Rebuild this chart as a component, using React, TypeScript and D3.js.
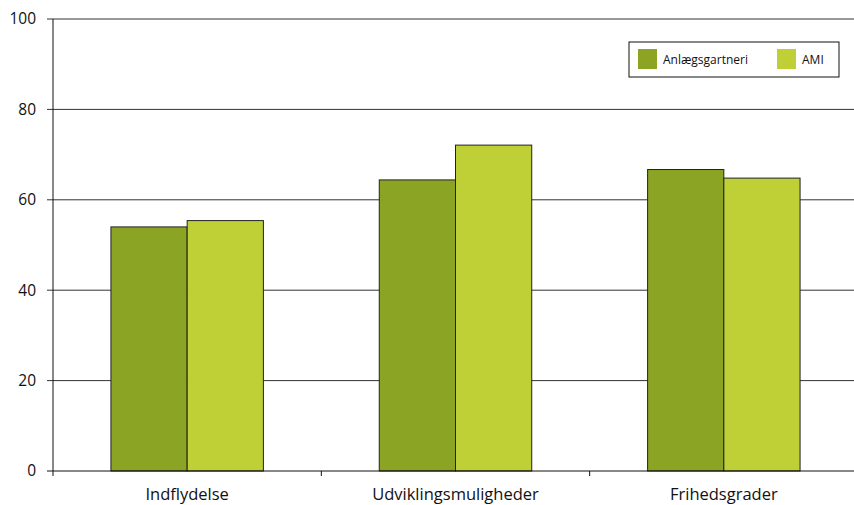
import { useEffect, useRef } from 'react';
import * as d3 from 'd3';

const categories = ['Indflydelse', 'Udviklingsmuligheder', 'Frihedsgrader'];
const seriesNames = ['Anlægsgartneri', 'AMI'];
const anlaeg = [54.0, 64.4, 66.7];
const ami = [55.4, 72.1, 64.8];
const yTicks = [0, 20, 40, 60, 80, 100];
const colors = ['#8ba423', '#bfcf36'];

export default function App() {
	const ref = useRef<SVGSVGElement | null>(null);

	useEffect(() => {
		if (!ref.current) return;
		const svg = d3.select(ref.current);
		svg.selectAll('*').remove();

		const margin = { top: 19, right: -4, bottom: 34, left: 53 };
		const width = 854 - margin.left - margin.right;
		const height = 505 - margin.top - margin.bottom;
		const font = "'Open Sans', sans-serif";

		const x0 = d3.scaleBand().domain(categories).range([0, width]).paddingInner(0).paddingOuter(0);
		const x1 = d3.scaleBand().domain(seriesNames).range([0, x0.bandwidth()]).paddingOuter(0.76);
		const y = d3.scaleLinear().domain([0, 100]).range([height, 0]);

		const g = svg.append('g').attr('transform', `translate(${margin.left},${margin.top})`);

		// gridlines
		g.selectAll('line.grid')
			.data(yTicks.filter(t => t > 0))
			.enter()
			.append('line')
			.attr('x1', -6)
			.attr('x2', width)
			.attr('y1', d => y(d))
			.attr('y2', d => y(d))
			.attr('stroke', '#333')
			.attr('stroke-width', 1);

		// y tick labels
		g.selectAll('text.ytick')
			.data(yTicks)
			.enter()
			.append('text')
			.attr('x', -17)
			.attr('y', d => y(d))
			.attr('dy', '0.35em')
			.attr('text-anchor', 'end')
			.style('font-family', font)
			.style('font-size', '15.5px')
			.attr('fill', '#111')
			.text(d => d);

		const series = [anlaeg, ami];
		categories.forEach((cat, ci) => {
			series.forEach((vals, si) => {
				g.append('rect')
					.attr('x', (x0(cat) ?? 0) + (x1(seriesNames[si]) ?? 0))
					.attr('y', y(vals[ci]))
					.attr('width', x1.bandwidth())
					.attr('height', height - y(vals[ci]))
					.attr('fill', colors[si])
					.attr('stroke', '#222')
					.attr('stroke-width', 1);
			});
		});

		// axes lines
		g.append('line').attr('x1', 0).attr('x2', 0).attr('y1', 0).attr('y2', height + 5).attr('stroke', '#111');
		g.append('line').attr('x1', -6).attr('x2', width).attr('y1', height).attr('y2', height).attr('stroke', '#111');

		// x ticks at category boundaries
		categories.slice(1).forEach(cat => {
			const xv = x0(cat) ?? 0;
			g.append('line').attr('x1', xv).attr('x2', xv).attr('y1', height).attr('y2', height + 5).attr('stroke', '#111');
		});

		g.selectAll('text.xlab')
			.data(categories)
			.enter()
			.append('text')
			.attr('x', d => (x0(d) ?? 0) + x0.bandwidth() / 2)
			.attr('y', height + 29)
			.attr('text-anchor', 'middle')
			.style('font-family', font)
			.style('font-size', '16.5px')
			.attr('fill', '#111')
			.text(d => d);

		// legend
		const legend = svg.append('g').attr('transform', 'translate(629,42)');
		legend.append('rect').attr('width', 210).attr('height', 35).attr('fill', '#fff').attr('stroke', '#111');
		const offsets = [9, 148];
		seriesNames.forEach((name, i) => {
			legend.append('rect').attr('x', offsets[i]).attr('y', 7).attr('width', 19).attr('height', 20).attr('fill', colors[i]);
			legend.append('text')
				.attr('x', offsets[i] + 25)
				.attr('y', 17.5)
				.attr('dy', '0.35em')
				.style('font-family', font)
				.style('font-size', '12px')
				.attr('fill', '#111')
				.text(name);
		});
	}, []);

	return (
		<svg
			ref={ref}
			width={854}
			height={505}
			style={{ position: 'absolute', left: 0, top: 0, background: '#fff' }}
		/>
	);
}
